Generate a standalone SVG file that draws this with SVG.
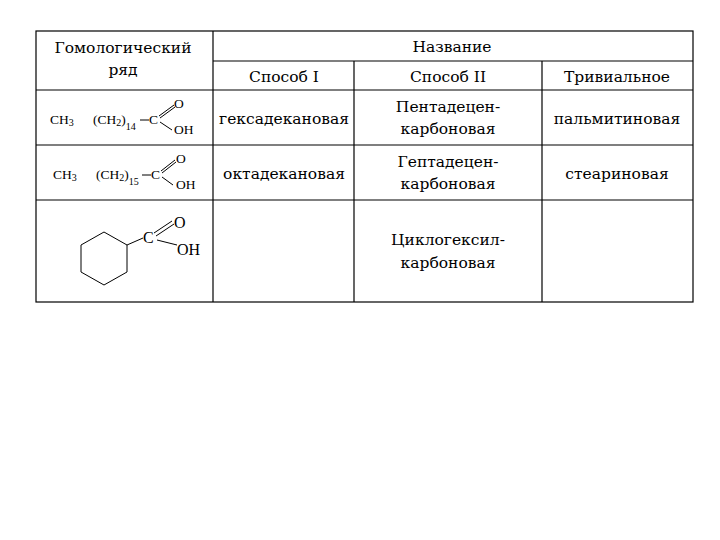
<svg xmlns="http://www.w3.org/2000/svg" width="720" height="540" viewBox="0 0 720 540">
<style>
.t{font-family:"DejaVu Serif",serif;font-size:15.5px;fill:#000;text-anchor:middle}
.c{font-family:"Liberation Serif",serif;font-size:13.5px;fill:#000}
.s{font-size:10px}
.l{stroke:#000;stroke-width:1.2;fill:none}
.b{stroke:#000;stroke-width:1;fill:none}
</style>
<rect width="720" height="540" fill="#fff"/>
<g id="grid">
<rect class="l" x="36" y="31" width="657" height="271"/>
<line class="l" x1="213" y1="31" x2="213" y2="302"/>
<line class="l" x1="213" y1="61" x2="693" y2="61"/>
<line class="l" x1="354" y1="61" x2="354" y2="302"/>
<line class="l" x1="542" y1="61" x2="542" y2="302"/>
<line class="l" x1="36" y1="90" x2="693" y2="90"/>
<line class="l" x1="36" y1="145" x2="693" y2="145"/>
<line class="l" x1="36" y1="200" x2="693" y2="200"/>
</g>
<g id="texts">
<text class="t" x="123" y="53">Гомологический</text>
<text class="t" x="123" y="75">ряд</text>
<text class="t" x="452" y="52">Название</text>
<text class="t" x="284" y="82">Способ I</text>
<text class="t" x="448" y="82">Способ II</text>
<text class="t" x="617" y="82">Тривиальное</text>
<text class="t" x="284" y="124">гексадекановая</text>
<text class="t" x="448" y="112">Пентадецен-</text>
<text class="t" x="448" y="134">карбоновая</text>
<text class="t" x="617" y="124">пальмитиновая</text>
<text class="t" x="284" y="179">октадекановая</text>
<text class="t" x="448" y="167">Гептадецен-</text>
<text class="t" x="448" y="189">карбоновая</text>
<text class="t" x="617" y="179">стеариновая</text>
<text class="t" x="448" y="245">Циклогексил-</text>
<text class="t" x="448" y="268">карбоновая</text>
</g>
<g id="formula1">
<text class="c" x="50" y="124">CH<tspan class="s" dy="2">3</tspan></text>
<text class="c" x="93" y="124">(CH<tspan class="s" dy="2">2</tspan><tspan dy="-2">)</tspan><tspan class="s" dy="6">14</tspan></text>
<line class="b" x1="140" y1="120" x2="149" y2="120"/>
<text class="c" x="149" y="124">C</text>
<path class="b" d="M159 116L174 105M160 118L175 107M160 122L172 130"/>
<text class="c" x="174" y="108">O</text>
<text class="c" x="174" y="134">OH</text>
</g>
<g id="formula2">
<text class="c" x="53" y="179">CH<tspan class="s" dy="2">3</tspan></text>
<text class="c" x="96" y="179">(CH<tspan class="s" dy="2">2</tspan><tspan dy="-2">)</tspan><tspan class="s" dy="6">15</tspan></text>
<line class="b" x1="142" y1="175" x2="151" y2="175"/>
<text class="c" x="151" y="179">C</text>
<path class="b" d="M161 171L175 160M162 173L176 162M162 177L173 185"/>
<text class="c" x="176" y="163">O</text>
<text class="c" x="176" y="189">OH</text>
</g>
<g id="formula3">
<path class="b" d="M104 232L127 245L127 272L104 285L81 272L81 245Z"/>
<line class="b" x1="127" y1="245" x2="143" y2="238"/>
<text style="font-family:'Liberation Serif',serif;font-size:16px" x="143" y="243">C</text>
<path class="b" d="M154 233L172 221M156 236L174 224M157 240L177 245"/>
<text style="font-family:'Liberation Serif',serif;font-size:16px" x="174" y="228">O</text>
<text style="font-family:'Liberation Serif',serif;font-size:16px" x="177" y="255">OH</text>
</g>
</svg>
